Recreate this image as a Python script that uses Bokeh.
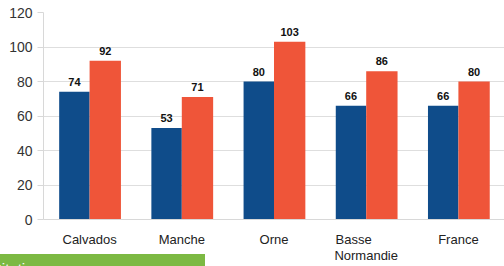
from bokeh.plotting import figure
from bokeh.models import ColumnDataSource, Range1d, FactorRange, Div
from bokeh.layouts import column
from bokeh.transform import dodge
from bokeh.core.properties import value
from bokeh.embed import file_html
from bokeh.resources import INLINE

categories = ["Calvados", "Manche", "Orne", "Basse\nNormandie", "France"]
serie_bleue = [74, 53, 80, 66, 66]
serie_rouge = [92, 71, 103, 86, 80]
y_ticks = [0, 20, 40, 60, 80, 100, 120]

BLUE = "#0f4c8a"
RED = "#ef5539"
GREEN = "#7cb943"
FONT = "Liberation Sans"

# pad the short first line so the two-line label looks left-aligned
nb = "\u00a0"
factors = []
for c in categories:
    if "\n" in c:
        first, second = c.split("\n")
        factors.append(first + nb * 7 + "\n" + second)
    else:
        factors.append(c)

src = ColumnDataSource(dict(
    cat=factors,
    bleu=serie_bleue,
    rouge=serie_rouge,
    bleu_txt=[str(v) for v in serie_bleue],
    rouge_txt=[str(v) for v in serie_rouge],
))

p = figure(width=504, height=266, output_backend="svg", toolbar_location=None,
           x_range=FactorRange(*factors, range_padding=0),
           y_range=Range1d(0, 120),
           min_border_left=43, min_border_right=0, min_border_top=12, min_border_bottom=46)
p.outline_line_color = None
p.background_fill_color = "white"

p.vbar(x=dodge("cat", -0.165, range=p.x_range), top="bleu", width=0.33,
       source=src, fill_color=BLUE, line_color=None)
p.vbar(x=dodge("cat", 0.17, range=p.x_range), top="rouge", width=0.34,
       source=src, fill_color=RED, line_color=None)

for col, txt, off in (("bleu", "bleu_txt", -0.165), ("rouge", "rouge_txt", 0.17)):
    p.text(x=dodge("cat", off, range=p.x_range), y=col, text=txt, source=src,
           text_align="center", text_baseline="bottom", y_offset=-6,
           text_font_size="11px", text_font_style="bold", text_color="#111111",
           text_font=value(FONT))

p.yaxis.ticker = y_ticks
p.yaxis.axis_line_color = "#d8d8d8"
p.yaxis.major_tick_line_color = "#d8d8d8"
p.yaxis.major_tick_out = 6
p.yaxis.major_tick_in = 0
p.yaxis.minor_tick_line_color = None
p.yaxis.major_label_text_font = FONT
p.yaxis.major_label_text_font_size = "14px"
p.yaxis.major_label_text_color = "#333333"
p.yaxis.major_label_standoff = 5

p.xaxis.axis_line_color = "#d8d8d8"
p.xaxis.major_tick_line_color = None
p.xaxis.major_tick_out = 0
p.xaxis.major_tick_in = 0
p.xaxis.minor_tick_line_color = None
p.xaxis.major_label_text_font = FONT
p.xaxis.major_label_text_font_size = "13px"
p.xaxis.major_label_text_color = "#222222"
p.xaxis.major_label_text_line_height = 1.1
p.xaxis.major_label_standoff = 12

p.xgrid.grid_line_color = None
p.ygrid.grid_line_color = "#dedede"
p.ygrid.grid_line_width = 1

band = Div(
    text='<div style="margin-top:7px;margin-left:-9px;line-height:16px;'
         'white-space:nowrap;color:white;font-family:\'Liberation Sans\';font-size:15px">Citation</div>',
    width=205, height=12, margin=(-12, 0, 0, 0),
    styles={"background-color": GREEN, "overflow": "hidden"},
)

layout = column(p, band, spacing=0)
open("out.html", "w").write(file_html(layout, INLINE))
